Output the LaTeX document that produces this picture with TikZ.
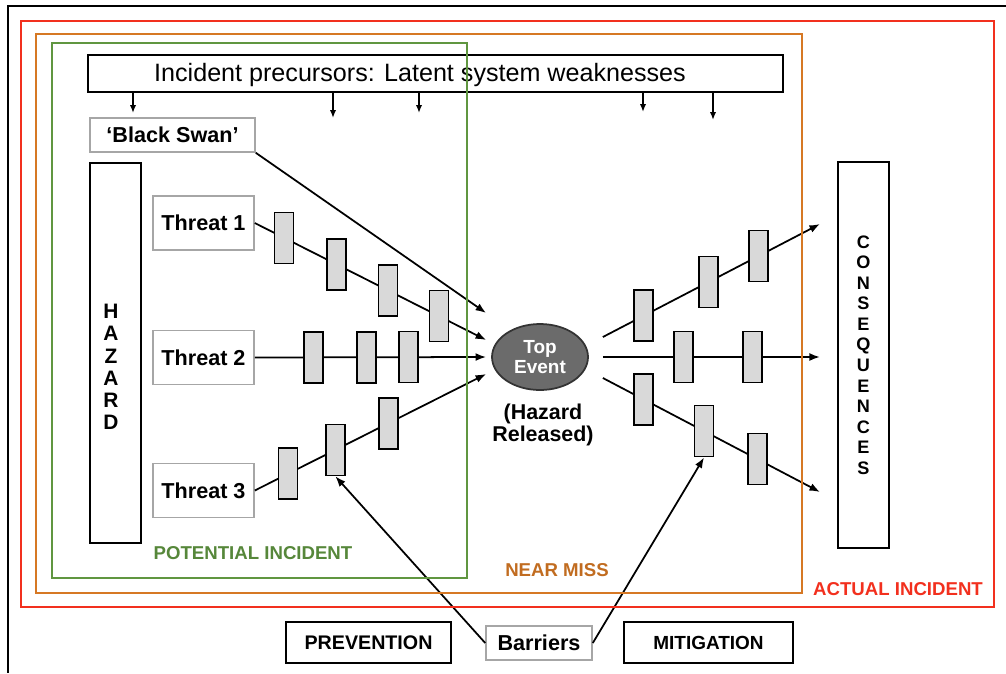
\documentclass[tikz,border=0pt]{standalone}
\usepackage{fontspec}
\setmainfont{Liberation Sans}
\usetikzlibrary{calc,positioning,shapes.geometric,arrows.meta}

\definecolor{actualred}{RGB}{242,48,30}
\definecolor{nearorange}{RGB}{214,120,36}
\definecolor{potgreen}{RGB}{96,150,64}

\tikzset{
  thickbox/.style={draw=black, line width=1.5pt, inner sep=0pt},
  greybox/.style={draw=gray!70, line width=0.9pt, inner sep=0pt, font=\bfseries\fontsize{12.3}{14}\selectfont},
  barrier/.style={draw=black, fill=gray!30, line width=0.9pt, minimum width=3.8mm, minimum height=10.2mm, inner sep=0pt},
  flow/.style={line width=1pt, -{Latex[length=6pt,width=4.5pt]}},
  drop/.style={line width=1pt, -{Latex[length=4.5pt,width=3.6pt]}},
  zone/.style={line width=1.4pt},
  zonelabel/.style={font=\bfseries\fontsize{10.6}{12}\selectfont}
}

\begin{document}
\begin{tikzpicture}[x=0.02cm, y=-0.02cm]
  \useasboundingbox (0,0) rectangle (1006,673);
  % frame
  \draw[line width=1.1pt] (1006,6) -- (8,6) -- (8,673);

  % precursors
  \node[thickbox, minimum width=139mm, minimum height=7.4mm] (prec) at (435.5,73.5) {};
  \node[font=\fontsize{14.3}{16}\selectfont] (prectext) at (420,75) {Incident precursors: Latent system weaknesses};
  \foreach \x/\y in {133/113, 333/118, 419/113, 643/112, 713/120} {
    \coordinate (d\x) at (\x,\y);
    \draw[drop] (prec.south -| d\x) -- (d\x);
  }

  % left side
  \node[greybox, minimum width=33mm, minimum height=6.8mm] (swan) at (172.5,135) {`Black Swan'};
  \node[thickbox, minimum width=10.2mm, minimum height=76mm] (hazard) at (115.5,353) {};
  \node[font=\bfseries\fontsize{11.9}{12.6}\selectfont, align=center] (hazardtxt) at (111,367) {H\\A\\Z\\A\\R\\D};
  \foreach \i/\y in {1/223, 2/357.5, 3/490.5}
    \node[greybox, minimum width=20.2mm, minimum height=10.8mm] (threat\i) at (203.5,\y) {Threat \i};

  % top event
  \node[ellipse, draw=black!80, fill=black!58, line width=1pt, minimum width=19.2mm, minimum height=13.2mm,
        inner sep=0pt, text=white, align=center, font=\bfseries\fontsize{10.8}{11.3}\selectfont] (top) at (540,357) {Top\\Event};
  \node[align=center, font=\bfseries\fontsize{12.2}{13}\selectfont] (released) at (543,425) {(Hazard\\Released)};

  \coordinate (in0) at ($(top.west)+(-5,-44)$);
  \coordinate (in1) at ($(top.west)+(-5,-17)$);
  \coordinate (in2) at ($(top.west)+(-5,0)$);
  \coordinate (in3) at ($(top.west)+(-5,17)$);

  % threats
  \draw[flow] (swan.south east) -- (in0);
  \draw[flow] (threat1.east) -- (in1)
    node[barrier, pos=0.127] (b11) {} node[barrier, pos=0.354] (b12) {}
    node[barrier, pos=0.575] (b13) {} node[barrier, pos=0.796] (b14) {};
  \draw[flow] (threat2.east) -- (in2)
    node[barrier, pos=0.253] (b21) {} node[barrier, pos=0.483] (b22) {}
    node[barrier, pos=0.665] (b23) {};
  \draw[flow] (threat3.east) -- (in3)
    node[barrier, pos=0.144] (b31) {} node[barrier, pos=0.348] (b32) {}
    node[barrier, pos=0.577] (b33) {};

  % consequences
  \coordinate (out1) at ($(top.east)+(14,-20)$);
  \coordinate (out2) at ($(top.east)+(14,0)$);
  \coordinate (out3) at ($(top.east)+(14,21)$);
  \coordinate (c1) at (820,224);
  \coordinate (c2) at (820,357);
  \coordinate (c3) at (820,492);
  \draw[flow] (out1) -- (c1)
    node[barrier, pos=0.188] (r11) {} node[barrier, pos=0.486] (r12) {}
    node[barrier, pos=0.716] (r13) {};
  \draw[flow] (out2) -- (c2)
    node[barrier, pos=0.372] (r21) {} node[barrier, pos=0.688] (r22) {};
  \draw[flow] (out3) -- (c3)
    node[barrier, pos=0.188] (r31) {} node[barrier, pos=0.466] (r32) {}
    node[barrier, pos=0.711] (r33) {};
  \node[thickbox, minimum width=10.2mm, minimum height=77.2mm, align=center,
        font=\bfseries\fontsize{10.3}{11.7}\selectfont] (cons) at (863.5,355) {C\\O\\N\\S\\E\\Q\\U\\E\\N\\C\\E\\S};

  % bottom row
  \node[thickbox, minimum width=33mm, minimum height=8.2mm, font=\bfseries\fontsize{11.2}{13}\selectfont] (prevention) at (368.5,642.5) {PREVENTION};
  \node[greybox, minimum width=21.2mm, minimum height=6.8mm] (barriers) at (539,643) {Barriers};
  \node[thickbox, minimum width=33.8mm, minimum height=8.2mm, font=\bfseries\fontsize{10.8}{13}\selectfont] (mitigation) at (708.5,642.5) {MITIGATION};
  \draw[flow] (barriers.west) -- (b32.south);
  \draw[flow] (barriers.east) -- (r32.south);

  % zones
  \draw[zone, actualred] (21,21) rectangle (994,607);
  \draw[zone, nearorange] (36,34) rectangle (802,593);
  \draw[zone, potgreen] (52,43) rectangle (467,578);
  \node[zonelabel, text=potgreen!90!black] (potlabel) at (253,553) {POTENTIAL INCIDENT};
  \node[zonelabel, text=nearorange!90!black] (nearlabel) at (557,570) {NEAR MISS};
  \node[zonelabel, text=actualred] (actlabel) at (898,589) {ACTUAL INCIDENT};
\end{tikzpicture}
\end{document}
